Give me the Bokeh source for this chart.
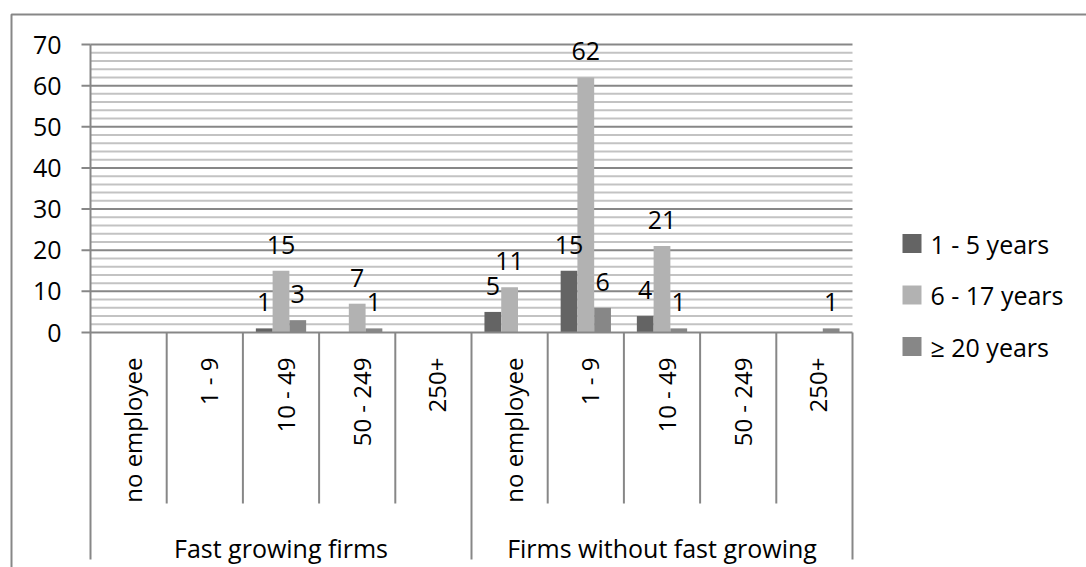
import math

from bokeh.core.properties import value
from bokeh.embed import file_html
from bokeh.models import Range1d
from bokeh.plotting import figure
from bokeh.resources import INLINE

# ---- data -------------------------------------------------------------
groups = ["Fast growing firms", "Firms without fast growing"]
sizes = ["no employee", "1 - 9", "10 - 49", "50 - 249", "250+"]
series = ["1 - 5 years", "6 - 17 years", "\u2265 20 years"]

years_1_5 = [0, 0, 1, 0, 0, 5, 15, 4, 0, 0]
years_6_17 = [0, 0, 15, 7, 0, 11, 62, 21, 0, 0]
years_20_plus = [0, 0, 3, 1, 0, 0, 6, 1, 0, 1]

y_ticks = [0, 10, 20, 30, 40, 50, 60, 70]
y_minor_step = 2

colors = ["#646464", "#b2b2b2", "#878787"]

# ---- layout (pixels) --------------------------------------------------
W, H = 1086, 567
LEFT_PX, RIGHT_PX = 90, 852       # plot area left / right edge
TOP_PX, ZERO_PX = 44, 332         # pixel rows of y=70 and y=0
Y_MAX = y_ticks[-1]
N_CAT = len(groups) * len(sizes)

PX_PER_X = (RIGHT_PX - LEFT_PX) / N_CAT
PX_PER_Y = (ZERO_PX - TOP_PX) / Y_MAX


def dx(px):
    return (px - LEFT_PX) / PX_PER_X


def dy(py):
    return (ZERO_PX - py) / PX_PER_Y


FONT = value("Open Sans")
FS = "25px"        # horizontal texts
FS_ROT = "24px"    # rotated size-class labels
AXIS_GRAY = "#878787"
MINOR_GRAY = "#c3c3c3"

p = figure(
    width=W, height=H,
    x_range=Range1d(dx(0), dx(W)),
    y_range=Range1d(dy(H), dy(0)),
    x_axis_location=None, y_axis_location=None,
    toolbar_location=None, output_backend="svg",
    min_border=0,
)
p.outline_line_color = None
p.grid.visible = False
p.background_fill_color = "white"
p.border_fill_color = "white"

# outer chart border (left and top edges)
p.line(x=[dx(11), dx(11), dx(W + 5)], y=[dy(H + 5), dy(14), dy(14)],
       line_color=AXIS_GRAY, line_width=2)

# horizontal grid lines: minor every 2, major every 10
minor_vals = [v for v in range(y_minor_step, Y_MAX, y_minor_step) if v % 10 != 0]
p.segment(x0=[0] * len(minor_vals), x1=[N_CAT] * len(minor_vals),
          y0=minor_vals, y1=minor_vals, line_color=MINOR_GRAY, line_width=2)
major_vals = [v for v in y_ticks if v > 0]
p.segment(x0=[0] * len(major_vals), x1=[N_CAT] * len(major_vals),
          y0=major_vals, y1=major_vals, line_color=AXIS_GRAY, line_width=2)

# bars
bar_w = 0.22
offsets = [-bar_w, 0.0, bar_w]
all_series = [years_1_5, years_6_17, years_20_plus]
label_x, label_y, label_t = [], [], []
for vals, off, col in zip(all_series, offsets, colors):
    xs = [i + 0.5 + off for i, v in enumerate(vals) if v > 0]
    vs = [v for v in vals if v > 0]
    p.vbar(x=xs, top=vs, bottom=0, width=bar_w, fill_color=col, line_color=None)
    label_x += xs
    label_y += vs
    label_t += [str(v) for v in vs]

# value labels above bars
p.text(x=label_x, y=label_y, text=label_t, y_offset=-26,
       text_align="center", text_baseline="middle",
       text_font=FONT, text_font_size=FS, text_color="black")

# y axis line, ticks and tick labels
p.segment(x0=[0], x1=[0], y0=[Y_MAX], y1=[dy(559)], line_color=AXIS_GRAY, line_width=2)
p.segment(x0=[dx(81)] * len(y_ticks), x1=[0] * len(y_ticks),
          y0=y_ticks, y1=y_ticks, line_color=AXIS_GRAY, line_width=2)
p.text(x=[dx(61)] * len(y_ticks), y=y_ticks, text=[str(v) for v in y_ticks],
       text_align="right", text_baseline="middle",
       text_font=FONT, text_font_size=FS, text_color="black")

# x axis line and category dividers
p.segment(x0=[0], x1=[N_CAT], y0=[0], y1=[0], line_color=AXIS_GRAY, line_width=2)
inner = [i for i in range(1, N_CAT) if i % len(sizes) != 0]
outer = [i for i in range(0, N_CAT + 1) if i % len(sizes) == 0 and i > 0]
p.segment(x0=inner, x1=inner, y0=[0] * len(inner), y1=[dy(503)] * len(inner),
          line_color=AXIS_GRAY, line_width=2)
p.segment(x0=outer, x1=outer, y0=[0] * len(outer), y1=[dy(559)] * len(outer),
          line_color=AXIS_GRAY, line_width=2)

# rotated size-class labels
cat_labels = sizes * len(groups)
p.text(x=[i + 0.5 for i in range(N_CAT)], y=[dy(357)] * N_CAT, text=cat_labels,
       angle=math.pi / 2, x_offset=4,
       text_align="right", text_baseline="middle",
       text_font=FONT, text_font_size=FS_ROT, text_color="black")

# group labels
gsz = len(sizes)
p.text(x=[g * gsz + gsz / 2 for g in range(len(groups))], y=[dy(547)] * len(groups),
       text=groups, text_align="center", text_baseline="middle",
       text_font=FONT, text_font_size=FS, text_color="black")

# legend
LEG_SQ_X, LEG_TXT_X, LEG_Y0, LEG_STEP, LEG_SQ = 911.5, 930, 243, 51.5, 19
leg_y = [dy(LEG_Y0 + k * LEG_STEP) for k in range(len(series))]
p.rect(x=[dx(LEG_SQ_X)] * len(series), y=leg_y, width=LEG_SQ, height=LEG_SQ,
       width_units="screen", height_units="screen",
       fill_color=colors, line_color=None)
p.text(x=[dx(LEG_TXT_X)] * len(series), y=leg_y, text=series,
       text_align="left", text_baseline="middle",
       text_font=FONT, text_font_size=FS, text_color="black")

open("out.html", "w").write(file_html(p, INLINE))
